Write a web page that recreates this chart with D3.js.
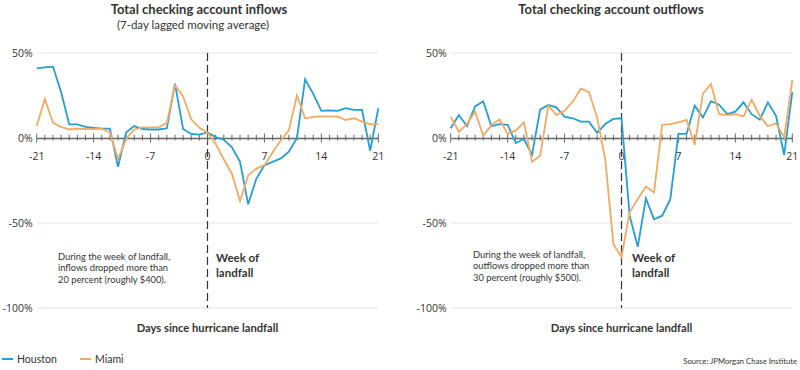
<!DOCTYPE html>
<html>
<head>
<meta charset="utf-8">
<script src="https://cdn.jsdelivr.net/npm/d3@7"></script>
<style>
  html, body { margin: 0; padding: 0; background: #fff; }
  svg { display: block; }
</style>
</head>
<body>
<svg id="chart" width="800" height="370"></svg>
<script>
// ---------- Data ----------
const days = [-21,-20,-19,-18,-17,-16,-15,-14,-13,-12,-11,-10,-9,-8,-7,-6,-5,-4,-3,-2,-1,
              0,1,2,3,4,5,6,7,8,9,10,11,12,13,14,15,16,17,18,19,20,21];

const inflowHouston = [41,41.5,42,27,8,8,6.5,6,5.5,5.5,-17,3.3,7,5.3,5,5,5.7,32,5.3,2.4,2,
                       3.3,0.5,-1,-5.5,-14,-39,-24,-16,-14,-12,-8,0,34.5,26,16,16.3,16,17.6,16.5,16.5,-7.5,17.5];
const inflowMiami   = [7,23,9,6.5,5,5.5,5.3,5.2,5.5,3.3,-12.5,-0.5,5,6.3,6.3,6.3,8.8,31,24.5,11,6,
                       3.3,-3.5,-12.5,-21,-37,-22,-18,-16,-8.5,-1.5,4.5,25,11.6,12.4,12.7,12.7,12.5,10.6,11.6,9.6,8,8.2];
const outflowHouston = [5.7,13.5,7,18.6,21.6,7,8.2,7.8,-3,-0.6,-9.8,16.7,19.4,18,12.5,11.6,9.6,9.6,3,8.2,11.2,
                        11.6,-45.7,-64,-35.5,-47.8,-45.7,-36,2.4,2.4,19,12,21.6,19.6,14,15.5,21,14,10.8,21,13,-10,27];
const outflowMiami   = [12.5,3.7,8.2,15.5,1.4,7.6,11,2.4,4.3,9.2,-14,-10.4,19,13.5,16,21.4,29,27,12,-12.4,-62.4,
                        -70,-43.7,-35.9,-28.6,-32,7.8,8.2,9.2,10.6,-4,26,31.8,14,13.5,14,12.7,22.5,13,6.9,8.6,0.4,34];

const yTicks = [50, 0, -50, -100];
const yTickLabels = ["50%", "0%", "-50%", "-100%"];
const xTickLabels = [-21, -14, -7, 0, 7, 14, 21];

const seriesNames = ["Houston", "Miami"];
const seriesColors = ["#259ed6", "#f4aa62"];

const titles = ["Total checking account inflows", "Total checking account outflows"];
const subtitle = "(7-day lagged moving average)";
const notes = [
  ["During the week of landfall,", "inflows dropped more than", "20 percent (roughly $400)."],
  ["During the week of landfall,", "outflows dropped more than", "30 percent (roughly $500)."]
];
const weekLabel = ["Week of", "landfall"];
const xTitle = "Days since hurricane landfall";
const source = "Source: JPMorgan Chase Institute";

// ---------- Drawing ----------
const FONT = "Lato, 'DejaVu Sans Condensed', sans-serif";
const TICKF = "'Open Sans', 'Liberation Sans', sans-serif";

const svg = d3.select("#chart");

const y = d3.scaleLinear().domain([-100, 50]).range([308, 53]);

const panels = [
  { x0: 36.7, x1: 378.3, data: [inflowHouston, inflowMiami], title: titles[0], titleX: 199, sub: true,
    note: notes[0], noteX: 58, noteY: 260, weekX: 216 },
  { x0: 450.7, x1: 792.3, data: [outflowHouston, outflowMiami], title: titles[1], titleX: 611, sub: false,
    note: notes[1], noteX: 473, noteY: 258, weekX: 632 }
];

panels.forEach(p => {
  const x = d3.scaleLinear().domain([-21, 21]).range([p.x0, p.x1]);
  const g = svg.append("g");

  g.selectAll("line.grid").data(yTicks.filter(v => v !== 0)).join("line")
    .attr("x1", x(-21)).attr("x2", x(21))
    .attr("y1", d => y(d)).attr("y2", d => y(d))
    .attr("stroke", "#e6e6e6").attr("stroke-width", 1.2);

  g.selectAll("text.ylab").data(yTicks).join("text")
    .attr("x", x(-21) - 4).attr("y", d => y(d) + 4)
    .attr("text-anchor", "end")
    .attr("font-family", TICKF).attr("font-size", 10.5).attr("fill", "#333")
    .text((d, i) => yTickLabels[i]);

  g.append("line")
    .attr("x1", x(0)).attr("x2", x(0)).attr("y1", y(50)).attr("y2", y(-100))
    .attr("stroke", "#333").attr("stroke-width", 1.2).attr("stroke-dasharray", "8,4");

  const axis = d3.axisBottom(x).tickValues(days).tickSize(0).tickFormat("");
  const ax = g.append("g").attr("transform", `translate(0,${y(0)})`).call(axis);
  ax.select(".domain").attr("stroke", "#666").attr("stroke-width", 1.5);
  g.selectAll("line.tk").data(days).join("line")
    .attr("x1", d => x(d)).attr("x2", d => x(d))
    .attr("y1", d => y(0) - (d % 7 === 0 ? 4.5 : 3.2))
    .attr("y2", d => y(0) + (d % 7 === 0 ? 4.5 : 2.5))
    .attr("stroke", "#666").attr("stroke-width", 1);

  g.selectAll("text.xlab").data(xTickLabels).join("text")
    .attr("x", d => x(d)).attr("y", y(0) + 22)
    .attr("text-anchor", "middle")
    .attr("font-family", TICKF).attr("font-size", 10.5).attr("fill", "#333")
    .text(d => d);

  const line = d3.line().x((d, i) => x(days[i])).y(d => y(d));
  p.data.forEach((s, k) => {
    g.append("path").datum(s)
      .attr("d", line).attr("fill", "none")
      .attr("stroke", seriesColors[k]).attr("stroke-width", 1.8)
      .attr("stroke-linejoin", "miter");
  });

  g.append("text").attr("x", p.titleX).attr("y", 14).attr("text-anchor", "middle")
    .attr("font-family", FONT).attr("font-weight", "bold").attr("font-size", 13).attr("fill", "#333")
    .text(p.title);
  if (p.sub) {
    g.append("text").attr("x", 193).attr("y", 29).attr("text-anchor", "middle")
      .attr("font-family", FONT).attr("font-size", 11.5).attr("fill", "#333")
      .text(subtitle);
  }

  const nt = g.append("text").attr("font-family", FONT).attr("font-size", 9.3).attr("fill", "#333");
  p.note.forEach((t, i) => nt.append("tspan").attr("x", p.noteX).attr("y", p.noteY + i * 11.4).text(t));

  const wk = g.append("text").attr("font-family", FONT).attr("font-weight", "bold")
    .attr("font-size", 11.5).attr("fill", "#333");
  weekLabel.forEach((t, i) => wk.append("tspan").attr("x", p.weekX).attr("y", 262 + i * 15).text(t));

  g.append("text").attr("x", (p.x0 + p.x1) / 2).attr("y", 332).attr("text-anchor", "middle")
    .attr("font-family", FONT).attr("font-weight", "bold").attr("font-size", 11.2).attr("fill", "#333")
    .text(xTitle);
});

const legX = [2, 80];
seriesNames.forEach((n, i) => {
  svg.append("line").attr("x1", legX[i]).attr("x2", legX[i] + 11).attr("y1", 359).attr("y2", 359)
    .attr("stroke", seriesColors[i]).attr("stroke-width", 2);
  svg.append("text").attr("x", legX[i] + 15).attr("y", 363)
    .attr("font-family", FONT).attr("font-size", 10.5).attr("fill", "#333").text(n);
});

svg.append("text").attr("x", 797).attr("y", 364).attr("text-anchor", "end")
  .attr("font-family", FONT).attr("font-size", 7.7).attr("fill", "#333").text(source);
</script>
</body>
</html>
